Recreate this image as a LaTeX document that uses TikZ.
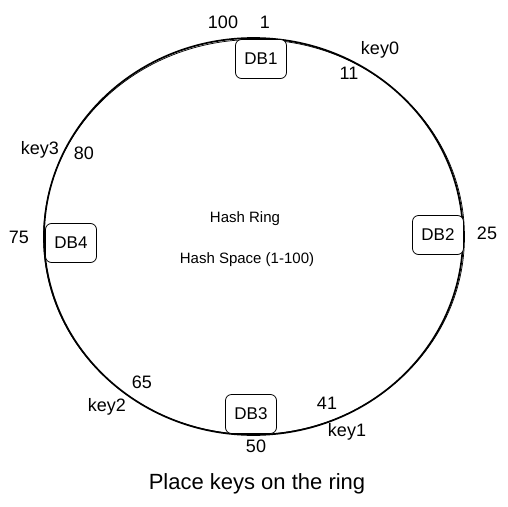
\documentclass[tikz,border=0pt]{standalone}
\usepackage{fontspec}
\setmainfont{Liberation Sans}
\usepackage{tikz}
\usetikzlibrary{shapes.geometric,positioning}

\begin{document}
\begin{tikzpicture}[
    x=1pt, y=-1pt,
    ring/.style={ellipse, draw, line width=1.7pt, minimum width=419pt, minimum height=397pt, inner sep=0pt},
    sketch/.style={ellipse, draw, line width=0.7pt, minimum width=421pt, minimum height=395pt, inner sep=0pt, rotate=1.2},
    db/.style={draw, rounded corners=6pt, fill=white, line width=0.8pt,
               minimum width=51pt, minimum height=39pt, font=\fontsize{17}{20}\selectfont},
    lbl/.style={font=\fontsize{18}{21}\selectfont, inner sep=1pt},
    title/.style={font=\fontsize{15}{18}\selectfont},
    caption/.style={font=\fontsize{22}{26}\selectfont}
]
\useasboundingbox (0,0) rectangle (508,506);

% --- ring ---
\node[ring] (hring) at (253.5,236.5) {};
\node[sketch] (hring2) at (254,237) {};

% --- nodes ---
\node[db] (db1) at (261,59) {DB1};
\node[db] (db2) at (438,235) {DB2};
\node[db] (db3) at (251,414) {DB3};
\node[db] (db4) at (71,243) {DB4};

% --- positions ---
\node[lbl] (p100) at (223,22) {100};
\node[lbl] (p1) at (265,22) {1};
\node[lbl] (p11) at (349,73) {11};
\node[lbl] (p25) at (487,233) {25};
\node[lbl] (p41) at (327,403) {41};
\node[lbl] (p50) at (256,446) {50};
\node[lbl] (p65) at (142,382) {65};
\node[lbl] (p75) at (19,237) {75};
\node[lbl] (p80) at (84,153) {80};

% --- keys ---
\node[lbl] (key0) at (380,50) {key0};
\node[lbl] (key1) at (347,432) {key1};
\node[lbl] (key2) at (107,407) {key2};
\node[lbl] (key3) at (40,150) {key3};

% --- texts ---
\node[title] (t1) at (245,219) {Hash Ring};
\node[title] (t2) at (247,260) {Hash Space (1-100)};
\node[caption] (cap) at (257,484) {Place keys on the ring};

\end{tikzpicture}
\end{document}
